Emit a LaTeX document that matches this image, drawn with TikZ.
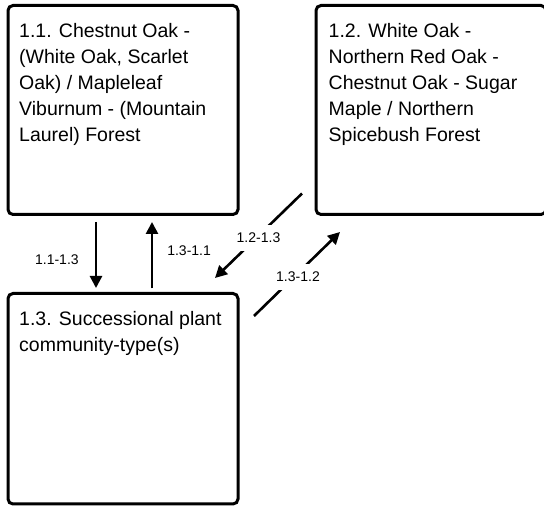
\documentclass[tikz,border=0pt]{standalone}
\usepackage{fontspec}
\setmainfont{Liberation Sans}
\usepackage{tikz}
\usetikzlibrary{arrows.meta,positioning}
\tikzset{
  >={Triangle[length=12pt,width=12pt]},
  flow/.style={->,line width=2.6pt,draw=black},
  stagebox/.style={draw=black,line width=3pt,rounded corners=5pt,
    minimum width=230pt,minimum height=209pt,inner sep=0pt,outer sep=0pt},
  stagetext/.style={anchor=north west,align=left,inner sep=0pt,
    font=\fontsize{19.5}{25.8}\selectfont},
  translabel/.style={fill=white,inner sep=1pt,minimum height=26pt,
    font=\fontsize{14}{16}\selectfont}
}

\begin{document}
\begin{tikzpicture}[x=1pt,y=1pt]
  \useasboundingbox (0,0) rectangle (544,506);
  % community-type boxes
  \node[stagebox] (n11) at (123,396) {};
  \node[stagebox,right=78pt of n11] (n12) {};
  \node[stagebox,minimum height=210.5pt,below=79pt of n11] (n13) {};
  \node[stagetext] (t11) at ([xshift=11pt,yshift=-18pt]n11.north west)
    {1.1. Chestnut Oak -\\(White Oak, Scarlet\\Oak) / Mapleleaf\\Viburnum - (Mountain\\Laurel) Forest};
  \node[stagetext] (t12) at ([xshift=12.5pt,yshift=-18pt]n12.north west)
    {1.2. White Oak -\\Northern Red Oak -\\Chestnut Oak - Sugar\\Maple / Northern\\Spicebush Forest};
  \node[stagetext] (t13) at ([xshift=11pt,yshift=-18pt]n13.north west)
    {1.3. Successional plant\\community-type(s)};
  % transitions
  \draw[flow] ([xshift=-27pt,yshift=-7.5pt]n11.south) -- node[translabel,left=15pt,yshift=-5pt] (l1113) {1.1-1.3} ([xshift=-27pt,yshift=5.5pt]n13.north);
  \draw[flow] ([xshift=29pt,yshift=5pt]n13.north) -- node[translabel,right=13pt,yshift=5pt] (l1311) {1.3-1.1} ([xshift=29pt,yshift=-7.5pt]n11.south);
  \draw[flow] ([xshift=-14pt,yshift=21pt]n12.south west) -- node[translabel,yshift=-2pt] (l1213) {1.2-1.3} ([xshift=-23pt,yshift=15.5pt]n13.north east);
  \draw[flow] ([xshift=16pt,yshift=-22.5pt]n13.north east) -- node[translabel,xshift=1pt,yshift=-3pt] (l1312) {1.3-1.2} ([xshift=24pt,yshift=-17.5pt]n12.south west);
\end{tikzpicture}
\end{document}
